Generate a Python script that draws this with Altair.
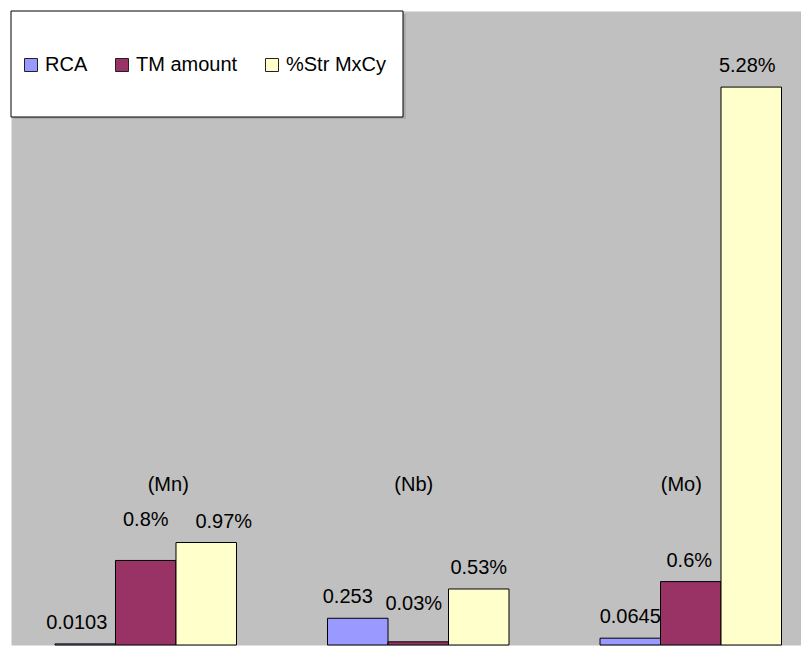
import altair as alt
import pandas as pd

# Grouped bars: one group per element, one bar per measure
elements = ["Mn", "Nb", "Mo"]
series = ["RCA", "TM amount", "%Str MxCy"]
rca = [0.0103, 0.253, 0.0645]
tm_amount = [0.8, 0.03, 0.6]          # percent
str_mxcy = [0.97, 0.53, 5.28]         # percent
percent_series = {"TM amount", "%Str MxCy"}

colors = ["#9999FF", "#993366", "#FFFFCC"]
FONT = "Liberation Sans"

rows = []
for i, el in enumerate(elements):
    for s, vals in zip(series, [rca, tm_amount, str_mxcy]):
        v = vals[i]
        label = f"{v:g}" + ("%" if s in percent_series else "")
        rows.append({"element": el, "series": s, "value": v,
                     "label": label, "key": f"{el}|{s}"})
df = pd.DataFrame(rows)
cat_df = pd.DataFrame({"element": elements,
                       "name": [f"({e})" for e in elements]})

x_enc = alt.X("element:N", sort=elements, axis=None,
              scale=alt.Scale(paddingInner=0.334, paddingOuter=0.1165,
                              align=0.693, round=False))
xo_enc = alt.XOffset("series:N", sort=series,
                     scale=alt.Scale(domain=series, paddingInner=0,
                                     paddingOuter=0))
y_enc = alt.Y("value:Q", axis=None,
              scale=alt.Scale(domain=[0, 6], nice=False, zero=True))

bars = alt.Chart(df).mark_bar(stroke="black", strokeWidth=1).encode(
    x=x_enc,
    xOffset=xo_enc,
    y=y_enc,
    color=alt.Color(
        "series:N",
        sort=series,
        scale=alt.Scale(domain=series, range=colors),
        legend=alt.Legend(
            title=None, orient="none", legendX=10, legendY=44,
            direction="horizontal", symbolType="square", symbolSize=169,
            symbolStrokeColor="#222222", symbolStrokeWidth=1,
            symbolOpacity=1, labelFont=FONT, labelFontSize=20,
            labelColor="black", labelOffset=4, columnPadding=24,
            padding=0, labelLimit=300,
        ),
    ),
)

# value labels, with small per-label nudges where labels were moved apart
label_nudge = {
    "Mn|RCA": (-8.5, 0),
    "Mn|TM amount": (0, -19),
    "Mn|%Str MxCy": (17.5, 0),
    "Nb|RCA": (-10, 0),
    "Nb|TM amount": (-4.5, -17),
    "Mo|TM amount": (-1.5, 0),
    "Mo|%Str MxCy": (-4, 0),
}
groups = {}
for key in df["key"]:
    groups.setdefault(label_nudge.get(key, (0, 0)), []).append(key)

label_layers = []
for (dx, dy), keys in groups.items():
    label_layers.append(
        alt.Chart(df).transform_filter(
            alt.FieldOneOfPredicate(field="key", oneOf=keys)
        ).mark_text(font=FONT, fontSize=20, color="black", align="center",
                    baseline="alphabetic", dx=dx, dy=-15 + dy).encode(
            x=x_enc, xOffset=xo_enc, y=y_enc, text="label:N"
        )
    )

# element names above each group
cat_nudge = {"Mn": 22.5, "Nb": -4.5, "Mo": -9.5}
cat_layers = []
for el in elements:
    cat_layers.append(
        alt.Chart(cat_df).transform_filter(alt.datum.element == el)
        .mark_text(font=FONT, fontSize=20, color="black", align="center",
                   baseline="alphabetic", dx=cat_nudge[el]).encode(
            x=x_enc, y=alt.value(480), text="name:N"
        )
    )

# legend frame with a soft drop shadow
box_df = pd.DataFrame({"box": [0]})
shadow = alt.Chart(box_df).mark_rect(fill="#ababab").encode(
    x=alt.value(3), x2=alt.value(395), y=alt.value(3), y2=alt.value(108)
)
frame = alt.Chart(box_df).mark_rect(fill="white", stroke="black",
                                    strokeWidth=1).encode(
    x=alt.value(0), x2=alt.value(392), y=alt.value(0), y2=alt.value(106)
)

chart = alt.layer(shadow, frame, bars, *label_layers, *cat_layers).properties(
    width=790, height=634,
    padding={"left": 11, "top": 11, "right": 0, "bottom": 4},
    autosize=alt.AutoSizeParams(type="none"),
    background="white",
).configure_view(fill="#C0C0C0", stroke="transparent")

chart.save("out.html", embed_options={"renderer": "svg", "actions": False})
